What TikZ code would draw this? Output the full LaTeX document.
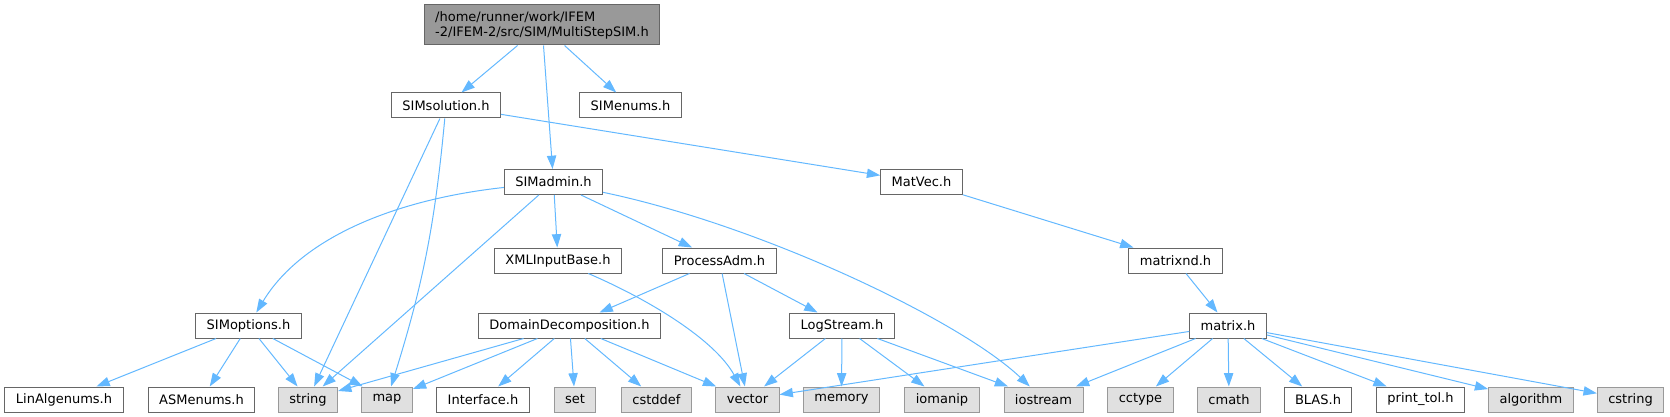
\documentclass[tikz,border=0pt]{standalone}
\usepackage{fontspec}
\setmainfont{DejaVu Sans}
\usetikzlibrary{arrows.meta}
\definecolor{edgeblue}{HTML}{63B8FF}
\definecolor{boxline}{HTML}{666666}
\definecolor{sysline}{HTML}{999999}
\definecolor{sysfill}{HTML}{E0E0E0}
\definecolor{rootfill}{HTML}{999999}

\begin{document}
\begin{tikzpicture}[x=0.75pt,y=-0.75pt,
		hdr/.style={draw=boxline,fill=white,line width=0.75pt,minimum height=18.75pt,inner xsep=8.2pt,inner ysep=0pt,font=\fontsize{9.75}{11.25}\selectfont},
		sys/.style={hdr,draw=sysline,fill=sysfill},
		top/.style={hdr,fill=rootfill,align=left,minimum height=30pt},
		dep/.style={draw=edgeblue,line width=0.75pt,-{Triangle[length=10pt,width=7pt]}}]
		\useasboundingbox (0,0) rectangle (1670,417);
		\node[top] (root) at (542,25) {/home/runner/work/IFEM\\-2/IFEM-2/src/SIM/MultiStepSIM.h};
		\node[hdr] (simsol) at (446,105.5) {SIMsolution.h};
		\node[hdr] (simenums) at (630.5,105.5) {SIMenums.h};
		\node[hdr] (simadmin) at (553.5,182) {SIMadmin.h};
		\node[hdr] (matvec) at (921.5,182) {MatVec.h};
		\node[hdr] (xmlbase) at (558,260.5) {XMLInputBase.h};
		\node[hdr] (procadm) at (719.5,260.5) {ProcessAdm.h};
		\node[hdr] (matrixnd) at (1175.5,260.5) {matrixnd.h};
		\node[hdr] (simopts) at (248.5,325.5) {SIMoptions.h};
		\node[hdr] (domdec) at (569.5,325.5) {DomainDecomposition.h};
		\node[hdr] (logstream) at (842,325.5) {LogStream.h};
		\node[hdr] (matrixh) at (1228,325.5) {matrix.h};
		\node[hdr] (linalg) at (64,399.5) {LinAlgenums.h};
		\node[hdr] (asmenums) at (201.5,399.5) {ASMenums.h};
		\node[sys] (string) at (308,399.5) {string};
		\node[sys] (map) at (387,399.5) {map};
		\node[hdr] (interface) at (483,399.5) {Interface.h};
		\node[sys] (set) at (575,399.5) {set};
		\node[sys] (cstddef) at (656.5,399.5) {cstddef};
		\node[sys] (vector) at (747.5,399.5) {vector};
		\node[sys] (memory) at (841.5,399.5) {memory};
		\node[sys] (iomanip) at (942,399.5) {iomanip};
		\node[sys] (iostream) at (1043.5,399.5) {iostream};
		\node[sys] (cctype) at (1140.5,399.5) {cctype};
		\node[sys] (cmath) at (1229,399.5) {cmath};
		\node[hdr] (blas) at (1318,399.5) {BLAS.h};
		\node[hdr] (printtol) at (1420.5,399.5) {print\_tol.h};
		\node[sys] (algorithm) at (1531,399.5) {algorithm};
		\node[sys] (cstring) at (1630.5,399.5) {cstring};

		\draw[dep] (root) -- (simsol);
		\draw[dep] (root) -- (simadmin);
		\draw[dep] (root) -- (simenums);
		\draw[dep] (simsol) -- (string);
		\draw[dep] (simsol) to[bend left=6] (map);
		\draw[dep] (simsol) -- (matvec);
		\draw[dep] (simadmin) .. controls (390,200) and (300,240) .. (simopts);
		\draw[dep] (simadmin) -- (string);
		\draw[dep] (simadmin) -- (xmlbase);
		\draw[dep] (simadmin) -- (procadm);
		\draw[dep] (simadmin) .. controls (760,225) and (960,320) .. (iostream);
		\draw[dep] (matvec) -- (matrixnd);
		\draw[dep] (xmlbase) .. controls (650,300) and (715,340) .. (vector);
		\draw[dep] (procadm) -- (domdec);
		\draw[dep] (procadm) -- (vector);
		\draw[dep] (procadm) -- (logstream);
		\draw[dep] (matrixnd) -- (matrixh);
		\foreach \t in {linalg,asmenums,string,map}
			\draw[dep] (simopts) -- (\t);
		\foreach \t in {string,map,interface,set,cstddef,vector}
			\draw[dep] (domdec) -- (\t);
		\foreach \t in {vector,memory,iomanip,iostream}
			\draw[dep] (logstream) -- (\t);
		\foreach \t in {vector,iostream,cctype,cmath,blas,printtol,algorithm,cstring}
			\draw[dep] (matrixh) -- (\t);
\end{tikzpicture}
\end{document}
